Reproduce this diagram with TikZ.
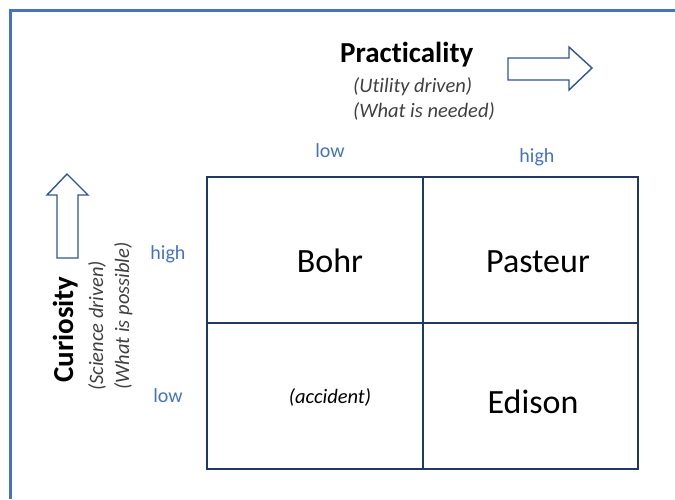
\documentclass[tikz,border=0pt]{standalone}
\usepackage{fontspec}
\setmainfont{Carlito}[Ligatures={NoCommon}]
\definecolor{frameblue}{HTML}{4472C4}
\definecolor{arrowblue}{HTML}{2F5597}
\definecolor{gridnavy}{HTML}{203864}
\definecolor{labelblue}{HTML}{4472C4}
\definecolor{subgray}{HTML}{404040}
\begin{document}
\begin{tikzpicture}[x=1pt,y=-1pt,
  axistitle/.style={font=\fontsize{29}{30}\selectfont\bfseries, text=black, inner sep=0pt},
  axissub/.style={font=\fontsize{20.5}{22}\selectfont\itshape, text=subgray, inner sep=0pt},
  level/.style={font=\fontsize{20}{22}\selectfont, text=labelblue, inner sep=0pt},
  cellname/.style={font=\fontsize{34}{36}\selectfont, text=black, inner sep=0pt},
  cellnote/.style={font=\fontsize{20.5}{22}\selectfont\itshape, text=black, inner sep=0pt},
  gridline/.style={draw=gridnavy, line width=1.6pt},
  hollowarrow/.style={draw=arrowblue, line width=1.4pt, fill=white, line join=miter},
  framerule/.style={draw=frameblue, line width=3pt}]
\useasboundingbox (0,0) rectangle (675,499);
% frame
\draw[framerule] (10,499) -- (10,10) -- (675,10);
% grid
\coordinate (tl) at (207,177);
\coordinate (br) at (638,469);
\draw[gridline] (tl) rectangle (br);
\draw[gridline] (423,177) -- (423,469);
\draw[gridline] (207,323) -- (638,323);
% cell texts
\node[cellname, anchor=base] (bohr) at (330,272) {Bohr};
\node[cellname, anchor=base] (pasteur) at (538,272) {Pasteur};
\node[cellnote, anchor=base] (accident) at (330,403) {(accident)};
\node[cellname, anchor=base] (edison) at (533,413) {Edison};
% level labels
\node[level] (xlow) at (330,151) {low};
\node[level] (xhigh) at (537,157) {high};
\node[level] (yhigh) at (168,254) {high};
\node[level] (ylow) at (168,396) {low};
% practicality title
\node[axistitle, anchor=base west] (prac) at (340,62) {Practicality};
\node[axissub, anchor=base west] (util) at (353,92) {(Utility driven)};
\node[axissub, anchor=base west] (need) at (353,117) {(What is needed)};
% right arrow
\draw[hollowarrow] (508,58) -- (569,58) -- (569,47) -- (592,68) -- (569,90) -- (569,80) -- (508,80) -- cycle;
% curiosity title
\node[axistitle, rotate=90, anchor=base west] (cur) at (73,383) {Curiosity};
\node[axissub, rotate=90, anchor=base west] (sci) at (103,391) {(Science driven)};
\node[axissub, rotate=90, anchor=base west] (poss) at (129,390) {(What is possible)};
% up arrow
\draw[hollowarrow] (57,258) -- (57,195) -- (47,195) -- (67,174) -- (88,195) -- (78,195) -- (78,258) -- cycle;
\end{tikzpicture}
\end{document}
